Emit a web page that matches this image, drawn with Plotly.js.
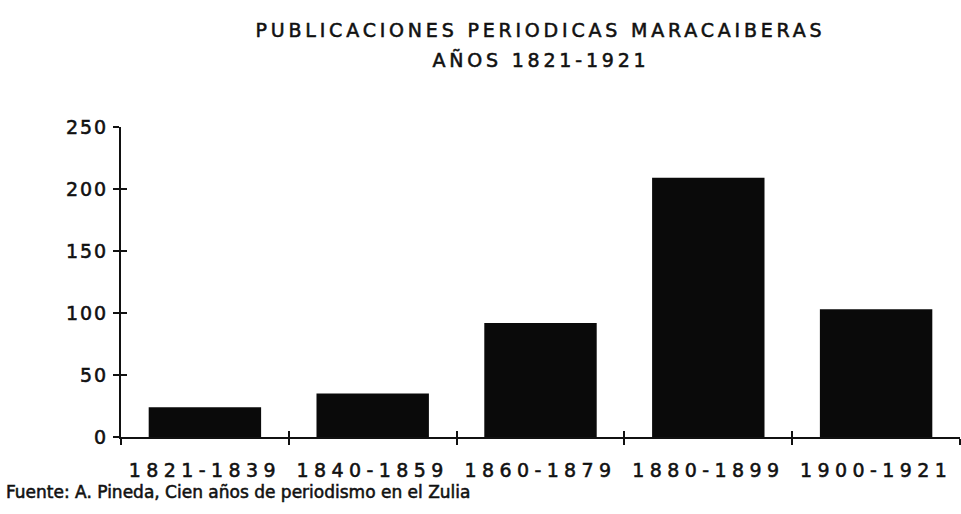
<!DOCTYPE html>
<html>
<head>
<meta charset="utf-8">
<script src="https://cdn.plot.ly/plotly-3.0.1.min.js"></script>
<style>
  html, body { margin: 0; padding: 0; background: #fff; }
  #chart { width: 961px; height: 514px; }
  #chart text { stroke: #111; stroke-width: 0.55px; }
  .xtick text { letter-spacing: 5.4px; }
  .ytick text { letter-spacing: 2px; }
  .gtitle { letter-spacing: 3.8px; }
  .annotation[data-index="0"] .annotation-text { letter-spacing: 3.8px; }
</style>
</head>
<body>
<div id="chart"></div>
<script>
// Data
const periods = ["1821-1839", "1840-1859", "1860-1879", "1880-1899", "1900-1921"];
const publications = [24, 35, 92, 209, 103];
const yTickValues = [0, 50, 100, 150, 200, 250];

const titleLine1 = "PUBLICACIONES PERIODICAS MARACAIBERAS";
const titleLine2 = "AÑOS 1821-1921";
const sourceText = "Fuente: A. Pineda, Cien años de periodismo en el Zulia";

const FONT = "DejaVu Sans, Liberation Sans, sans-serif";

// boundaries between categories for the inside tick overlay
const boundaries = periods.map((_, i) => i - 0.5).concat([periods.length - 0.5]);

const traces = [
  {
    type: "bar",
    x: periods,
    y: publications,
    marker: { color: "#0a0a0a", line: { width: 0 } },
    hoverinfo: "x+y"
  },
  {
    type: "scatter",
    x: [0],
    y: [0],
    xaxis: "x2",
    yaxis: "y2",
    mode: "markers",
    marker: { opacity: 0 },
    hoverinfo: "skip",
    showlegend: false
  }
];

const layout = {
  width: 961,
  height: 514,
  paper_bgcolor: "#ffffff",
  plot_bgcolor: "#ffffff",
  showlegend: false,
  margin: { l: 121, r: 1, t: 127, b: 77 },
  bargap: 0.33,
  font: { family: FONT, color: "#111", size: 19 },
  title: {
    text: titleLine1,
    font: { family: FONT, size: 19, color: "#111" },
    xref: "paper",
    x: 0.5,
    xanchor: "center",
    yref: "container",
    y: 1 - 30 / 514,
    yanchor: "middle"
  },
  xaxis: {
    type: "category",
    range: [-0.5, periods.length - 0.5],
    showline: true,
    linecolor: "#111",
    linewidth: 2,
    showgrid: false,
    zeroline: false,
    ticks: "outside",
    tickson: "boundaries",
    ticklen: 6,
    tickwidth: 2,
    tickcolor: "#111",
    ticklabelstandoff: 15,
    tickfont: { family: FONT, size: 19, color: "#111" },
    fixedrange: true
  },
  yaxis: {
    range: [0, 250],
    tickvals: yTickValues,
    showline: true,
    linecolor: "#111",
    linewidth: 2,
    showgrid: false,
    zeroline: false,
    ticks: "outside",
    ticklen: 6,
    tickwidth: 2,
    tickcolor: "#111",
    ticklabelstandoff: 1,
    tickfont: { family: FONT, size: 19, color: "#111" },
    fixedrange: true
  },
  xaxis2: {
    overlaying: "x",
    anchor: "y2",
    side: "bottom",
    range: [-0.5, periods.length - 0.5],
    tickvals: boundaries,
    showticklabels: false,
    ticks: "inside",
    ticklen: 6,
    tickwidth: 2,
    tickcolor: "#111",
    showgrid: false,
    zeroline: false,
    showline: false,
    fixedrange: true
  },
  yaxis2: {
    overlaying: "y",
    anchor: "x2",
    side: "left",
    range: [0, 250],
    tickvals: yTickValues,
    showticklabels: false,
    ticks: "inside",
    ticklen: 6,
    tickwidth: 2,
    tickcolor: "#111",
    showgrid: false,
    zeroline: false,
    showline: false,
    fixedrange: true
  },
  annotations: [
    {
      text: titleLine2,
      xref: "paper",
      yref: "paper",
      x: 0.5,
      y: (437 - 60) / 310,
      xanchor: "center",
      yanchor: "middle",
      showarrow: false,
      font: { family: FONT, size: 19, color: "#111" }
    },
    {
      text: sourceText,
      xref: "paper",
      yref: "paper",
      x: (4 - 121) / 839,
      y: -(492 - 437) / 310,
      xanchor: "left",
      yanchor: "middle",
      showarrow: false,
      font: { family: FONT, size: 17, color: "#111" }
    }
  ]
};

Plotly.newPlot("chart", traces, layout, { displayModeBar: false, staticPlot: true });
</script>
</body>
</html>
